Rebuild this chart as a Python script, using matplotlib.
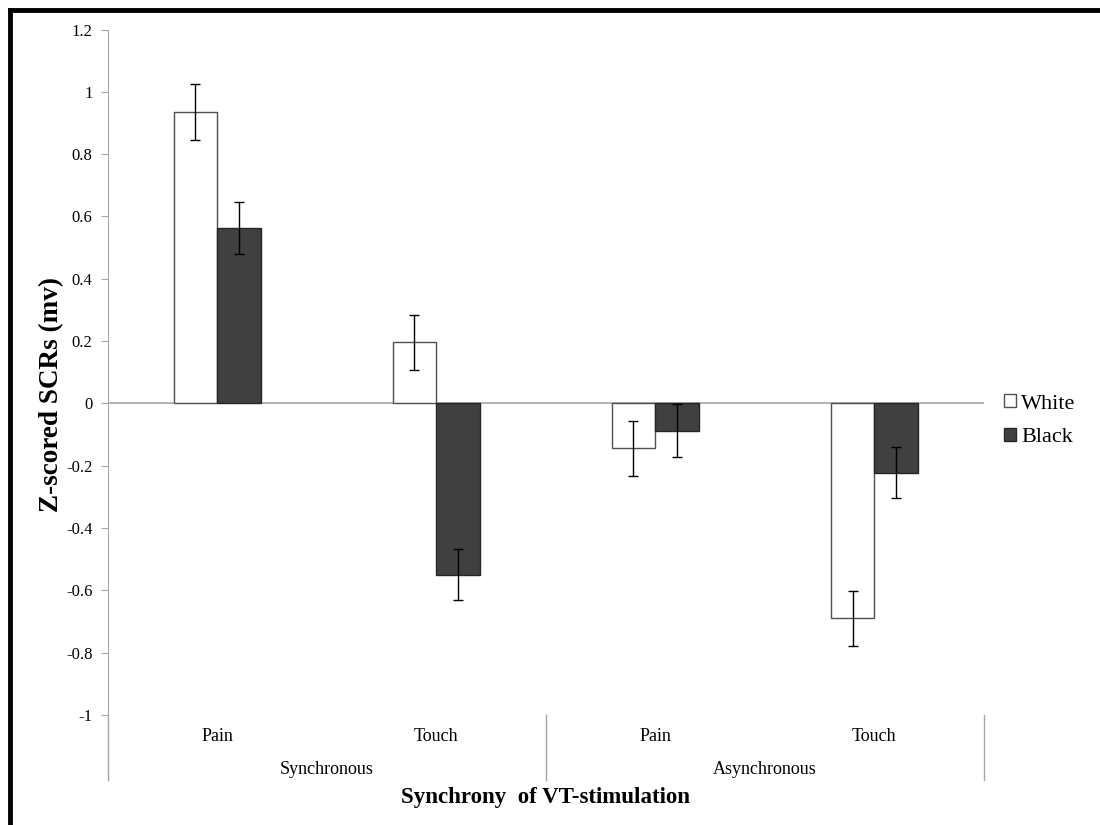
import matplotlib
matplotlib.use("Agg")
import matplotlib.pyplot as plt
from matplotlib.lines import Line2D
import numpy as np

plt.rcParams['font.family'] = ['Liberation Serif', 'DejaVu Serif']

# data
conditions = ["Pain", "Touch", "Pain", "Touch"]
groups = ["Synchronous", "Asynchronous"]
white_vals = [0.935, 0.196, -0.144, -0.690]
white_err = [0.089, 0.089, 0.089, 0.088]
black_vals = [0.563, -0.549, -0.087, -0.222]
black_err = [0.084, 0.083, 0.084, 0.083]
yticks = [-1, -0.8, -0.6, -0.4, -0.2, 0, 0.2, 0.4, 0.6, 0.8, 1, 1.2]

fig = plt.figure(figsize=(11, 8.25), dpi=100)
ax = fig.add_axes([0.098, 0.1333, 0.7965, 0.8309])

x = np.arange(len(conditions))
w = 0.2
axis_grey = "#a6a6a6"

ax.bar(x - w / 2, white_vals, w, color="white", edgecolor="#505050",
       linewidth=1, label="White", zorder=2)
ax.bar(x + w / 2, black_vals, w, color="#404040", edgecolor="#262626",
       linewidth=1, label="Black", zorder=2)
ax.errorbar(x - w / 2, white_vals, yerr=white_err, fmt="none", ecolor="black",
            elinewidth=1, capsize=3.5, capthick=1, zorder=3)
ax.errorbar(x + w / 2, black_vals, yerr=black_err, fmt="none", ecolor="black",
            elinewidth=1, capsize=3.5, capthick=1, zorder=3)

ax.set_xlim(-0.5, 3.5)
ax.set_ylim(-1, 1.2)
ax.set_yticks(yticks)
ax.set_yticklabels([f"{v:g}" for v in yticks], fontsize=12)
ax.tick_params(axis="y", direction="out", length=5, color=axis_grey, pad=6)
ax.set_xticks([])

for s in ["top", "right", "bottom"]:
    ax.spines[s].set_visible(False)
ax.spines["left"].set_color(axis_grey)
ax.axhline(0, color=axis_grey, linewidth=1.2, zorder=1)

# two-level category axis under the plot
xt = ax.get_xaxis_transform()
for xi, lab in zip(x, conditions):
    ax.text(xi, -0.032, lab, transform=xt, ha="center", va="center", fontsize=13)
for gi, g in enumerate(groups):
    ax.text(0.5 + 2 * gi, -0.079, g, transform=xt, ha="center", va="center", fontsize=13)
for sx in [-0.5, 1.5, 3.5]:
    ax.plot([sx, sx], [0, -0.095], transform=xt, color=axis_grey,
            linewidth=1, clip_on=False)

ax.text(0.5, -0.12, "Synchrony  of VT-stimulation", transform=ax.transAxes,
        ha="center", va="center", fontsize=16.5, fontweight="bold")
fig.text(52 / 1100, 1 - 395 / 825, "Z-scored SCRs (mv)", rotation=90,
         ha="center", va="center", fontsize=19.5, fontweight="bold")

fig.legend(loc="center left", bbox_to_anchor=(0.905, 0.49), frameon=False,
           fontsize=16, handlelength=0.5, handleheight=0.5, handletextpad=0.25,
           labelspacing=0.65, borderaxespad=0)

# frame lines on top and left edge of the figure
fig.add_artist(Line2D([0.009, 1.0], [0.988, 0.988], color="black", linewidth=3.5))
fig.add_artist(Line2D([0.009, 0.009], [0.0, 0.988], color="black", linewidth=3.5))

fig.savefig("out.png", dpi=100)
